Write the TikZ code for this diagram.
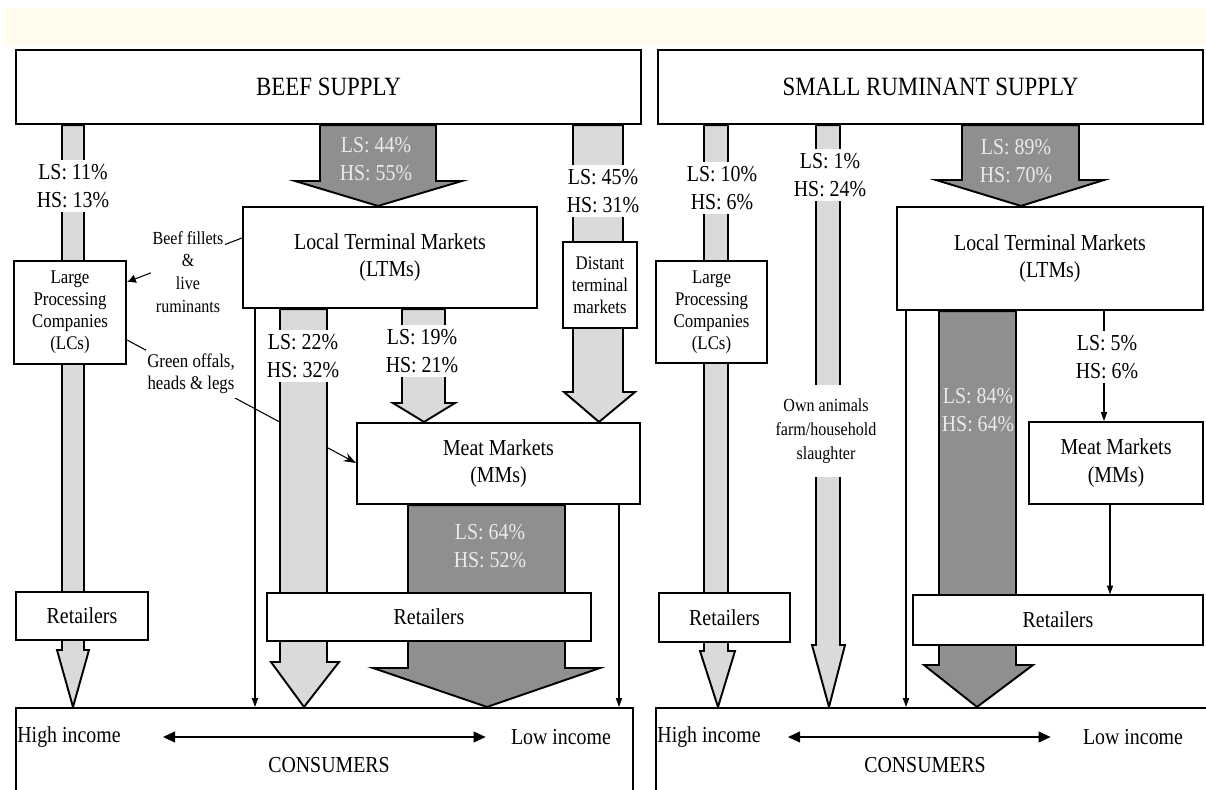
\documentclass[tikz,border=0pt]{standalone}
\usepackage{fontspec}
\setmainfont[FakeStretch=0.87]{Liberation Serif}
\usepackage{tikz}
\usetikzlibrary{arrows.meta,positioning,backgrounds}

\definecolor{cream}{RGB}{255,252,238}
\definecolor{pipegrey}{RGB}{218,218,218}
\definecolor{flowdark}{RGB}{143,143,143}
\definecolor{flowtext}{RGB}{234,234,234}

\tikzset{
  box/.style={draw, line width=1.2pt, fill=white, inner sep=0pt, align=center,
    font=\fontsize{13}{15.6}\selectfont},
  boxsize/.style 2 args={minimum width=#1cm, minimum height=#2cm},
  retail/.style={box, line width=0.8pt},
  title/.style={font=\fontsize{15}{18}\selectfont},
  smalltext/.style={font=\fontsize{11}{12.6}\selectfont},
  share/.style={fill=white, inner xsep=1pt, inner ysep=2.5pt, align=center,
    font=\fontsize{13}{15.6}\selectfont},
  darkshare/.style={text=flowtext, inner sep=0pt, align=center,
    font=\fontsize{13}{15.6}\selectfont},
  lightflow/.style={fill=pipegrey, draw, line width=1.1pt},
  darkflow/.style={fill=flowdark, draw, line width=1.1pt},
  thinflow/.style={line width=0.6pt, -{Triangle[length=5pt,width=3.5pt]}},
  sideline/.style={line width=0.6pt},
  income/.style={line width=1.4pt, {Triangle[length=7pt,width=6pt]}-{Triangle[length=7pt,width=6pt]}}
}

% fat arrow: style, left x, right x, start node, head y, flare left, flare right, tip
\newcommand{\fatflow}[8]{%
  \filldraw[#1] (#2,0 |- #4) -- (#2,#5) -- (#6,#5) -- (#8) -- (#7,#5) -- (#3,#5) -- (#3,0 |- #4) -- cycle;}

\begin{document}
\begin{tikzpicture}[x=0.02cm, y=-0.02cm]
\useasboundingbox (0,0) rectangle (1206,790);
\clip (0,0) rectangle (1206,790);
\fill[cream] (5,8) rectangle (1206,45);

% boxes, beef side
\node[box, title, boxsize={12.5}{1.48}] (nbeef) at (328.5,87) {BEEF SUPPLY};
\node[box, boxsize={5.88}{2.02}] (nltm1) at (390,257.5) {Local Terminal Markets\\(LTMs)};
\node[box, smalltext, boxsize={2.24}{2.06}] (nlc1) at (70,312.5) {Large\\Processing\\Companies\\(LCs)};
\node[box, smalltext, boxsize={1.48}{1.72}] (ndtm) at (600,285) {Distant\\terminal\\markets};
\node[box, boxsize={5.66}{1.62}] (nmm1) at (498.5,463.5) {Meat Markets\\(MMs)};
\node[retail, boxsize={2.64}{0.96}] (nret1) at (82,616) {Retailers};
\node[retail, boxsize={6.48}{0.96}] (nret2) at (429,617) {Retailers};
\node[box, boxsize={12.34}{1.84}] (ncons1) at (324.5,754) {};

% boxes, small ruminant side
\node[box, title, boxsize={10.9}{1.48}] (nsmall) at (930.5,87) {SMALL RUMINANT SUPPLY};
\node[box, boxsize={6.12}{2.06}] (nltm2) at (1050,258.5) {Local Terminal Markets\\(LTMs)};
\node[box, smalltext, boxsize={2.22}{2.04}] (nlc2) at (711.5,312) {Large\\Processing\\Companies\\(LCs)};
\node[box, boxsize={3.48}{1.64}] (nmm2) at (1116,463) {Meat Markets\\(MMs)};
\node[retail, boxsize={2.62}{0.98}] (nret3) at (724.5,617.5) {Retailers};
\node[retail, boxsize={5.8}{1.0}] (nret4) at (1058,620) {Retailers};
\node[box, boxsize={11.18}{1.84}] (ncons2) at (935.5,754) {};

\begin{scope}[on background layer]
  % by-products
  \draw[sideline, -{Latex[length=5pt,width=5pt]}] (nltm1.west |- 0,238) -- (nlc1.east |- 0,282);
  \draw[sideline, -{Stealth[length=7pt,width=5pt]}] (nlc1.east |- 0,340) -- (nmm1.west |- 0,463);
  % beef flows
  \fatflow{lightflow}{62}{84}{nbeef.south}{650}{57}{89}{73,0 |- ncons1.north}
  \fatflow{darkflow}{320}{436}{nbeef.south}{181}{295}{462}{378,0 |- nltm1.north}
  \fatflow{lightflow}{573}{623}{nbeef.south}{392}{564}{635}{599,0 |- nmm1.north}
  \fatflow{lightflow}{280}{327}{nltm1.south}{662}{271}{339}{304,0 |- ncons1.north}
  \fatflow{lightflow}{402}{445}{nltm1.south}{403}{393}{455}{424,0 |- nmm1.north}
  \fatflow{darkflow}{408}{565}{nmm1.south}{668}{373}{600}{487,0 |- ncons1.north}
  \draw[thinflow] (255,0 |- nltm1.south) -- (255,0 |- ncons1.north);
  \draw[thinflow] (619,0 |- nmm1.south) -- (619,0 |- ncons1.north);
  % small ruminant flows
  \fatflow{lightflow}{704}{728}{nsmall.south}{651}{700}{735}{718,0 |- ncons2.north}
  \fatflow{lightflow}{816}{840}{nsmall.south}{645}{812}{845}{829,0 |- ncons2.north}
  \fatflow{darkflow}{962}{1079}{nsmall.south}{180}{936}{1104}{1021,0 |- nltm2.north}
  \fatflow{darkflow}{939}{1016}{nltm2.south}{665}{924}{1033}{977,0 |- ncons2.north}
  \draw[thinflow] (906,0 |- nltm2.south) -- (906,0 |- ncons2.north);
  \draw[thinflow] (1104,0 |- nltm2.south) -- (1104,0 |- nmm2.north);
  \draw[thinflow] (1110,0 |- nmm2.south) -- (1110,0 |- nret4.north);
\end{scope}

% shares
\node[share] (ns11) at (73,186) {LS: 11\%\\HS: 13\%};
\node[darkshare] (ns44) at (376,159) {LS: 44\%\\HS: 55\%};
\node[share] (ns45) at (603,191) {LS: 45\%\\HS: 31\%};
\node[share] (ns22) at (303,356) {LS: 22\%\\HS: 32\%};
\node[share] (ns19) at (422,351) {LS: 19\%\\HS: 21\%};
\node[darkshare] (ns64) at (490,546) {LS: 64\%\\HS: 52\%};
\node[share] (ns10) at (722,188) {LS: 10\%\\HS: 6\%};
\node[share] (ns1) at (830,175) {LS: 1\%\\HS: 24\%};
\node[darkshare] (ns89) at (1016,161) {LS: 89\%\\HS: 70\%};
\node[darkshare] (ns84) at (978,410) {LS: 84\%\\HS: 64\%};
\node[share] (ns5) at (1107,357) {LS: 5\%\\HS: 6\%};
\node[share, inner ysep=8pt, font=\fontsize{10.5}{13.5}\selectfont] (nown) at (826,431) {Own animals\\farm/household\\slaughter};
\node[share, font=\fontsize{10.5}{13}\selectfont] (nfillets) at (188,272) {Beef fillets\\\&\\live\\ruminants};
\node[share, smalltext] (noffals) at (191,374) {Green offals,\\heads \& legs};

% consumers
\node[font=\fontsize{13}{15.6}\selectfont] (nhigh1) at (69,737) {High income};
\node[font=\fontsize{13}{15.6}\selectfont] (nlow1) at (561,737) {Low income};
\node[font=\fontsize{13}{15.6}\selectfont] (nc1) at (329,765) {CONSUMERS};
\draw[income, shorten <=0.72cm, shorten >=0.38cm] (nhigh1.east) -- (nlow1.west);
\node[font=\fontsize{13}{15.6}\selectfont] (nhigh2) at (709,737) {High income};
\node[font=\fontsize{13}{15.6}\selectfont] (nlow2) at (1133,737) {Low income};
\node[font=\fontsize{13}{15.6}\selectfont] (nc2) at (925,765) {CONSUMERS};
\draw[income, shorten <=0.42cm, shorten >=0.52cm] (nhigh2.east) -- (nlow2.west);
\end{tikzpicture}
\end{document}
